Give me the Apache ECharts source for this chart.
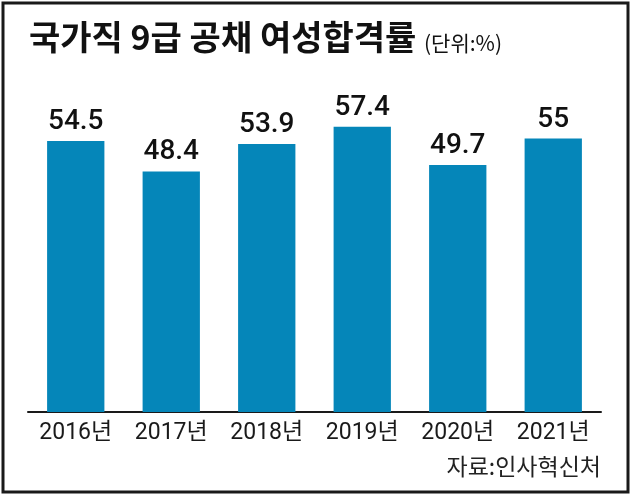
<!DOCTYPE html>
<html><head><meta charset="utf-8">
<script src="https://cdn.jsdelivr.net/npm/echarts@6/dist/echarts.min.js"></script>
<style>html,body{margin:0;padding:0;background:#fff}#c{width:630px;height:496px}</style>
</head><body><div id="c"></div>
<script>
const categories = ['2016년','2017년','2018년','2019년','2020년','2021년'];
const values = [54.5, 48.4, 53.9, 57.4, 49.7, 55];
const titleText = '국가직 9급 공채 여성합격률';
const unitText = '(단위:%)';
const sourceText = '자료:인사혁신처';

const chart = echarts.init(document.getElementById('c'));
chart.setOption({
  animation: false,
  backgroundColor: '#fff',
  grid: {left: 28, right: 29, top: 64, bottom: 84},
  xAxis: {
    type: 'category', data: categories,
    axisLine: {lineStyle: {color: '#1a1a1a', width: 2}},
    axisTick: {show: false},
    axisLabel: {color: '#1a1a1a', fontSize: 23, fontFamily: "Roboto, 'Noto Sans CJK KR'", margin: 10}
  },
  yAxis: {type: 'value', min: 0, max: 70, show: false, splitLine: {show: false}},
  series: [{
    type: 'bar', data: values, barWidth: '60%',
    itemStyle: {color: '#0586b9'},
    label: {show: true, position: 'top', distance: 5, color: '#111', fontSize: 28, fontWeight: 500, fontFamily: "Roboto, 'Noto Sans CJK KR'"}
  }],
  graphic: [
    {type: 'rect', shape: {x: 3, y: 3, width: 625, height: 489}, style: {fill: 'none', stroke: '#1a1a1a', lineWidth: 3}},
    {type: 'text', left: 29, top: 20, style: {text: titleText, font: "bold 34px 'Noto Sans CJK KR'", fill: '#111'}},
    {type: 'text', left: 424, top: 33, style: {text: unitText, font: "21px 'Noto Sans CJK KR'", fill: '#111'}},
    {type: 'text', right: 29, top: 455, style: {text: sourceText, font: "23px 'Noto Sans CJK KR'", fill: '#222'}}
  ]
});
</script></body></html>
